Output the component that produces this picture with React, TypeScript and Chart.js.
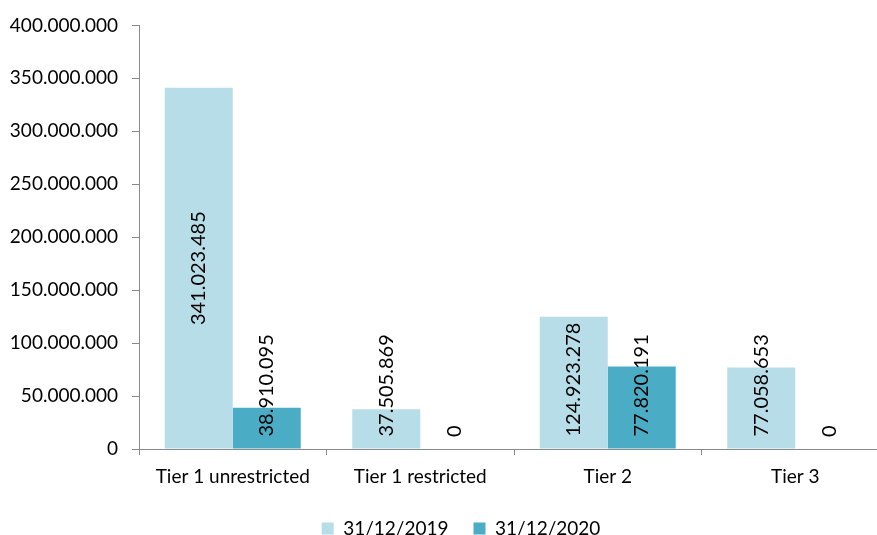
import React, { useEffect, useRef } from "react";
import { Chart, registerables } from "chart.js";

Chart.register(...registerables);

const categories = ["Tier 1 unrestricted", "Tier 1 restricted", "Tier 2", "Tier 3"];
const seriesNames = ["31/12/2019", "31/12/2020"];
const values2019 = [341023485, 37505869, 124923278, 77058653];
const values2020 = [38910095, 0, 77820191, 0];
const yTickMax = 400000000;
const yTickStep = 50000000;

const LIGHT = "#B7DEE8";
const DARK = "#4BACC6";
const AXIS = "#8A8A8A";
const FONT = "Lato, 'Open Sans', sans-serif";

const fmt = (n: number) =>
  Math.round(n).toString().replace(/\B(?=(\d{3})+(?!\d))/g, ".");

// Vertical value labels: centred in the bar when they fit,
// otherwise lifted so they end just above the axis.
const valueLabels = {
  id: "valueLabels",
  afterDatasetsDraw(chart: any) {
    const ctx = chart.ctx;
    ctx.save();
    ctx.font = `20px ${FONT}`;
    ctx.fillStyle = "#000";
    ctx.textAlign = "center";
    ctx.textBaseline = "middle";
    chart.data.datasets.forEach((ds: any, di: number) => {
      const meta = chart.getDatasetMeta(di);
      meta.data.forEach((bar: any, i: number) => {
        const text = fmt(ds.data[i]);
        const w = ctx.measureText(text).width;
        const { x, y, base } = bar.getProps(["x", "y", "base"], true);
        const cy = Math.min((y + base) / 2, base - 12 - w / 2);
        ctx.save();
        ctx.translate(x, cy);
        ctx.rotate(-Math.PI / 2);
        ctx.fillText(text, 0, 0);
        ctx.restore();
      });
    });
    ctx.restore();
  },
};

export default function App() {
  const ref = useRef<HTMLCanvasElement>(null);

  useEffect(() => {
    if (!ref.current) return;
    const chart = new Chart(ref.current, {
      type: "bar",
      data: {
        labels: categories,
        datasets: [
          { label: seriesNames[0], data: values2019, backgroundColor: LIGHT, borderWidth: 0 },
          { label: seriesNames[1], data: values2020, backgroundColor: DARK, borderWidth: 0 },
        ],
      },
      options: {
        responsive: false,
        animation: false,
        devicePixelRatio: 1,
        layout: { padding: { left: 0, right: 0, top: 21, bottom: 0 } },
        datasets: { bar: { barPercentage: 1, categoryPercentage: 0.7253 } },
        plugins: {
          legend: {
            position: "bottom",
            labels: {
              boxWidth: 12,
              boxHeight: 12,
              padding: 25,
              color: "#000",
              font: { family: FONT, size: 19 },
            },
          },
          tooltip: { enabled: false },
        },
        scales: {
          x: {
            grid: {
              display: true,
              drawOnChartArea: false,
              drawTicks: true,
              tickLength: 6,
              color: AXIS,
              offset: true,
            },
            border: { display: true, color: AXIS, width: 1 },
            ticks: { color: "#000", padding: 10, font: { family: FONT, size: 19 } },
            afterFit: (s: any) => {
              s.height = 45;
            },
          },
          y: {
            min: 0,
            max: yTickMax,
            grid: {
              display: true,
              drawOnChartArea: false,
              drawTicks: true,
              tickLength: 7,
              color: AXIS,
            },
            border: { display: true, color: AXIS, width: 1 },
            ticks: {
              stepSize: yTickStep,
              color: "#000",
              padding: 14,
              font: { family: FONT, size: 19 },
              callback: (v: any) => fmt(Number(v)),
            },
            afterFit: (s: any) => {
              s.width = 139;
            },
          },
          // empty right-hand gutter, keeps the plot narrower than the legend row
          gutter: {
            type: "linear",
            position: "right",
            display: true,
            grid: { display: false },
            border: { display: false },
            ticks: { display: false },
            afterFit: (s: any) => {
              s.width = 33;
            },
          },
        },
      },
      plugins: [valueLabels],
    });
    return () => chart.destroy();
  }, []);

  return (
    <div
      style={{
        position: "fixed",
        left: 0,
        top: 0,
        width: 877,
        height: 535,
        overflow: "hidden",
        background: "#fff",
      }}
    >
      <canvas ref={ref} width={922} height={548} style={{ display: "block" }} />
    </div>
  );
}
